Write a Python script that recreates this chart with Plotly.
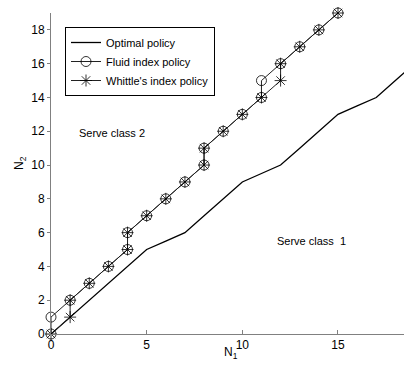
import plotly.graph_objects as go

# optimal switching curve
opt_n1 = [0, 1, 2, 3, 4, 5, 6, 7, 8, 9, 10, 11, 12, 13, 14, 15, 16, 17, 18, 19]
opt_n2 = [0, 1, 2, 3, 4, 5, 5.5, 6, 7, 8, 9, 9.5, 10, 11, 12, 13, 13.5, 14, 15, 16]

# fluid index policy
fluid_n1 = [0, 0, 1, 2, 3, 4, 4, 5, 6, 7, 8, 8, 9, 10, 11, 11, 12, 13, 14, 15]
fluid_n2 = [0, 1, 2, 3, 4, 5, 6, 7, 8, 9, 10, 11, 12, 13, 14, 15, 16, 17, 18, 19]

# Whittle's index policy
whittle_n1 = [0, 1, 1, 2, 3, 4, 4, 5, 6, 7, 8, 8, 9, 10, 11, 12, 12, 13, 14, 15]
whittle_n2 = [0, 1, 2, 3, 4, 5, 6, 7, 8, 9, 10, 11, 12, 13, 14, 15, 16, 17, 18, 19]

x_ticks = [0, 5, 10, 15]
y_ticks = [0, 2, 4, 6, 8, 10, 12, 14, 16, 18]

FONT = "Liberation Sans, Arial, Helvetica, sans-serif"

W, H = 404, 365
ml, mr, mt, mb = 51, 0, 13, 31
pw, ph = W - ml - mr, H - mt - mb


def px_to_paper(px, py):
    # pixel position in the picture -> paper coords
    return (px - ml) / pw, (H - mb - py) / ph


fig = go.Figure()

fig.add_trace(go.Scatter(
    x=opt_n1, y=opt_n2, mode='lines', name='Optimal policy',
    line=dict(color='black', width=1.3),
    cliponaxis=False
))

fig.add_trace(go.Scatter(
    x=fluid_n1, y=fluid_n2, mode='lines+markers', name='Fluid index policy',
    line=dict(color='#222222', width=1),
    marker=dict(symbol='circle-open', size=10, color='black', line=dict(width=0.8)),
    cliponaxis=False
))

fig.add_trace(go.Scatter(
    x=whittle_n1, y=whittle_n2, mode='lines+markers', name="Whittle's index policy",
    line=dict(color='#222222', width=1),
    marker=dict(symbol='asterisk-open', size=10, color='black', line=dict(width=0.8, color='black')),
    cliponaxis=False
))

fig.add_annotation(x=3.2, y=11.9, text='Serve class 2', showarrow=False,
                   font=dict(size=11, color='black', family=FONT))
fig.add_annotation(x=13.6, y=5.5, text='Serve class  1', showarrow=False,
                   font=dict(size=11, color='black', family=FONT))

# axis titles placed by hand
tx, ty = px_to_paper(231, 343)
fig.add_annotation(x=tx, y=ty, xref='paper', yref='paper', text='N<sub>1</sub>',
                   xanchor='center', yanchor='top',
                   showarrow=False, font=dict(size=12, color='black', family=FONT))
tx, ty = px_to_paper(30, 163)
fig.add_annotation(x=tx, y=ty, xref='paper', yref='paper', text='N<sub>2</sub>',
                   xanchor='right', yanchor='middle',
                   textangle=-90, showarrow=False,
                   font=dict(size=12, color='black', family=FONT))

lx, ly = px_to_paper(65, 27)

fig.update_layout(
    width=W, height=H,
    margin=dict(l=ml, r=mr, t=mt, b=mb),
    paper_bgcolor='white', plot_bgcolor='white',
    font=dict(family=FONT, size=11, color='black'),
    showlegend=True,
    legend=dict(x=lx, y=ly, xanchor='left', yanchor='top',
                bgcolor='white', bordercolor='black', borderwidth=1,
                font=dict(size=11, color='black'),
                tracegroupgap=0, itemwidth=30),
    xaxis=dict(range=[0, 18.45], tickvals=x_ticks, ticks='inside', ticklen=4,
               tickcolor='#808080', showline=True, linecolor='#808080', linewidth=1,
               showgrid=False, zeroline=False, tickfont=dict(size=12)),
    yaxis=dict(range=[0, 19], tickvals=y_ticks, ticks='outside', ticklen=3,
               tickcolor='#808080', showline=True, linecolor='#808080', linewidth=1,
               showgrid=False, zeroline=False, tickfont=dict(size=12)),
)

fig.write_html("out.html", config={'displayModeBar': False},
               post_script="document.body.style.margin='0px';")
